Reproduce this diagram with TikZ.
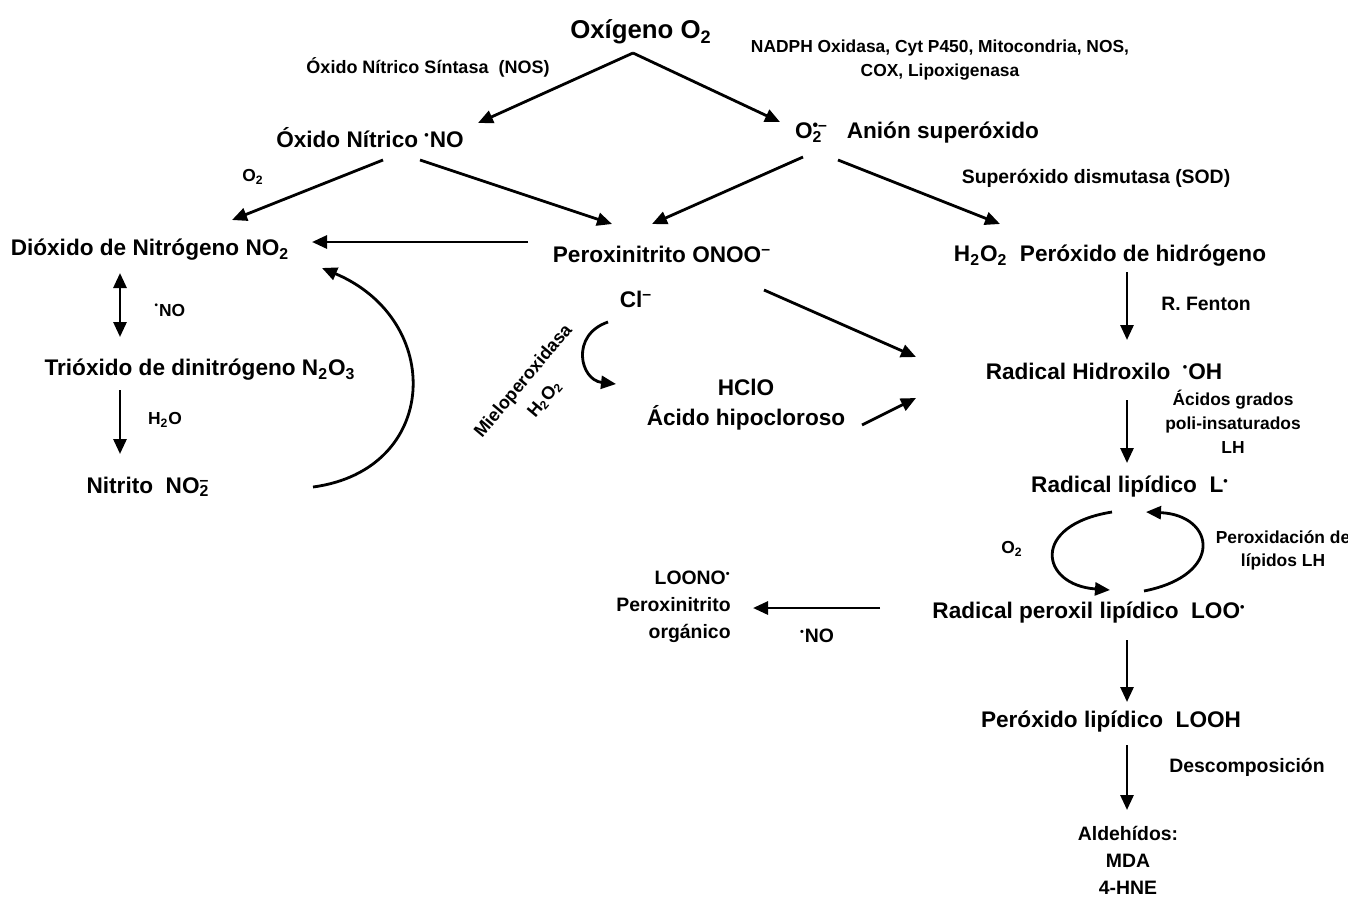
\documentclass[tikz,border=0pt]{standalone}
\usepackage{fontspec}
\setmainfont{Liberation Sans}
\usetikzlibrary{arrows.meta}
\newcommand\rad{\textsuperscript{\scalebox{0.8}{•}}}
\newcommand\sbsp[2]{\rlap{\textsubscript{#1}}\textsuperscript{#2}}
\begin{document}
\begin{tikzpicture}[x=0.5pt,y=-0.5pt,
  big/.style={font=\bfseries\fontsize{11.3}{15}\selectfont, inner sep=1pt},
  huge/.style={font=\bfseries\fontsize{12.9}{15}\selectfont, inner sep=1pt},
  small/.style={font=\bfseries\fontsize{8.7}{12}\selectfont, inner sep=1pt, align=center},
  mid/.style={font=\bfseries\fontsize{9.7}{13.5}\selectfont, inner sep=1pt, align=center},
  arr/.style={line width=1.4pt, -{Triangle[length=7.5pt,width=6.5pt]}},
  darr/.style={line width=1.4pt, {Triangle[length=7.5pt,width=6.5pt]}-{Triangle[length=7.5pt,width=6.5pt]}}]
\useasboundingbox (0,0) rectangle (1348,900);
\fill[white] (0,0) rectangle (1348,900);
% nodes
\node[huge] (ox) at (641,32) {Oxígeno O\textsubscript{2}};
\node[small, font=\bfseries\fontsize{9}{12}\selectfont] (nos) at (428,67) {Óxido Nítrico Síntasa\ \ (NOS)};
\node[small] (nadph) at (940,60) {NADPH Oxidasa, Cyt P450, Mitocondria, NOS,\\COX, Lipoxigenasa};
\node[big] (no) at (370,138) {Óxido Nítrico \rad NO};
\node[big] (sup) at (917,133) {O\sbsp{2}{•–}\ \ \ Anión superóxido};
\node[mid] (sod) at (1096,178) {Superóxido dismutasa (SOD)};
\node[small] (o2a) at (253,177) {O\textsubscript{2}};
\node[big] (no2) at (150,250) {Dióxido de Nitrógeno NO\textsubscript{2}};
\node[big] (onoo) at (662,254) {Peroxinitrito ONOO\textsuperscript{–}};
\node[big] (h2o2) at (1110,256) {H\textsubscript{2}O\textsubscript{2}\ \ Peróxido de hidrógeno};
\node[small] (nolab) at (170,310) {\rad NO};
\node[big] (n2o3) at (200,370) {Trióxido de dinitrógeno N\textsubscript{2}O\textsubscript{3}};
\node[small] (h2o) at (165,420) {H\textsubscript{2}O};
\node[big] (nit) at (148,487) {Nitrito\ \ NO\sbsp{2}{–}};
\node[big] (cl) at (636,299) {Cl\textsuperscript{–}};
\node[small, font=\bfseries\fontsize{9}{14}\selectfont, rotate=50] (mielo) at (534,390) {Mieloperoxidasa\\H\textsubscript{2}O\textsubscript{2}};
\node[big, align=center] (hclo) at (746,405) {HClO\\Ácido hipocloroso};
\node[mid] (fenton) at (1206,304) {R. Fenton};
\node[big] (oh) at (1104,371) {Radical Hidroxilo\ \ \rad OH};
\node[small] (agpi) at (1233,422) {Ácidos grados\\poli-insaturados\\LH};
\node[big] (lrad) at (1130,487) {Radical lipídico\ \ L\rad};
\node[small] (o2b) at (1012,549) {O\textsubscript{2}};
\node[small, font=\bfseries\fontsize{8.7}{11.5}\selectfont] (perox) at (1283,550) {Peroxidación de\\lípidos LH};
\node[big] (loo) at (1089,613) {Radical peroxil lipídico\ \ LOO\rad};
\node[mid, align=right, anchor=east] (loono) at (733,607) {LOONO\rad\\Peroxinitrito\\orgánico};
\node[mid] (nolab2) at (817,636) {\rad NO};
\node[big] (looh) at (1111,722) {Peróxido lipídico\ \ LOOH};
\node[mid] (desc) at (1247,767) {Descomposición};
\node[mid] (ald) at (1128,860) {Aldehídos:\\MDA\\4-HNE};
% arrows
\coordinate (oxs) at (633,53);
\coordinate (noT) at (478,123);
\coordinate (supT) at (780,122);
\draw[arr] (oxs) -- (noT);
\draw[arr] (oxs) -- (supT);
\draw[arr] (383,160) -- (232,220);
\draw[arr] (420,160) -- (612,224);
\draw[arr] (803,157) -- (652,224);
\draw[arr] (838,160) -- (1000,224);
\draw[arr] (528,242) -- (312,242);
\draw[darr] (120,273) -- (120,337);
\draw[arr] (120,390) -- (120,454);
\draw[arr] (313,487) .. controls (440,470) and (445,320) .. (322,268);
\draw[arr] (608,322) .. controls (570,335) and (580,380) .. (616,384);
\draw[arr] (764,290) -- (916,357);
\draw[arr] (862,425) -- (916,398);
\draw[arr] (1127,272) -- (1127,340);
\draw[arr] (1127,400) -- (1127,463);
\draw[arr] (1112,512) .. controls (1030,525) and (1040,585) .. (1110,590);
\draw[arr] (1144,591) .. controls (1225,575) and (1215,515) .. (1146,512);
\draw[arr] (880,608) -- (753,608);
\draw[arr] (1127,640) -- (1127,702);
\draw[arr] (1127,745) -- (1127,810);
\end{tikzpicture}
\end{document}
